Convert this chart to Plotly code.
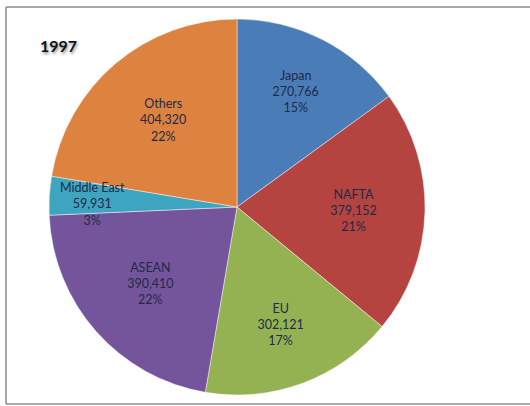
import math
import plotly.graph_objects as go

regions = ["Japan", "NAFTA", "EU", "ASEAN", "Middle East", "Others"]
values = [270766, 379152, 302121, 390410, 59931, 404320]
colors = ["#4A7DB8", "#B5433F", "#94B252", "#74559C", "#3FA4BF", "#DE833F"]
title_text = "1997"

W, H = 530, 406
cx, cy, R = 237, 207, 188
total = sum(values)
small = "Middle East"

templates = ["" if r == small else "%{label}<br>%{value:,}<br>%{percent:.0%}" for r in regions]

fig = go.Figure(go.Pie(
    labels=regions,
    values=values,
    sort=False,
    direction="clockwise",
    rotation=0,
    marker=dict(colors=colors, line=dict(color="rgba(255,255,255,0.45)", width=1)),
    texttemplate=templates,
    textposition="inside",
    insidetextorientation="horizontal",
    textfont=dict(family="Lato", size=12.5, color="#1F2A48"),
    hoverinfo="label+value+percent",
    domain=dict(x=[(cx - R) / W, (cx + R) / W],
                y=[(H - cy - R) / H, (H - cy + R) / H]),
    showlegend=False,
))

# label for the thin slice, placed at its mid-angle (overflowing like the original)
i = regions.index(small)
mid = (sum(values[:i]) + values[i] / 2) / total
theta = mid * 2 * math.pi
rr = 0.77 * R
lx = cx + rr * math.sin(theta)
ly = cy - rr * math.cos(theta) + 6
small_text = f"{small}<br>{values[i]:,}<br>{round(values[i] / total * 100)}%"

border = dict(color="#8C8C8C", width=1.5)
x0, y0, y1 = 6 / W, (H - 404) / H, (H - 7) / H

fig.update_layout(
    width=W, height=H,
    margin=dict(l=0, r=0, t=0, b=0),
    paper_bgcolor="white",
    plot_bgcolor="white",
    shapes=[
        dict(type="line", xref="paper", yref="paper", x0=x0, x1=x0, y0=y0, y1=y1, line=border, layer="below"),
        dict(type="line", xref="paper", yref="paper", x0=x0, x1=1, y0=y1, y1=y1, line=border, layer="below"),
        dict(type="line", xref="paper", yref="paper", x0=x0, x1=1, y0=y0, y1=y0, line=border, layer="below"),
    ],
    annotations=[
        dict(text="<b>" + title_text + "</b>", x=38 / W, y=(H - 46) / H,
             xref="paper", yref="paper", xanchor="left", yanchor="middle",
             showarrow=False,
             font=dict(family="Lato", size=16, color="#111111",
                       shadow="1px 2px 3px rgba(0,0,0,0.45)")),
        dict(text=small_text, x=lx / W, y=(H - ly) / H,
             xref="paper", yref="paper", xanchor="center", yanchor="middle",
             showarrow=False, align="center",
             font=dict(family="Lato", size=12.5, color="#1F2A48")),
    ],
)

fig.write_html("out.html")
